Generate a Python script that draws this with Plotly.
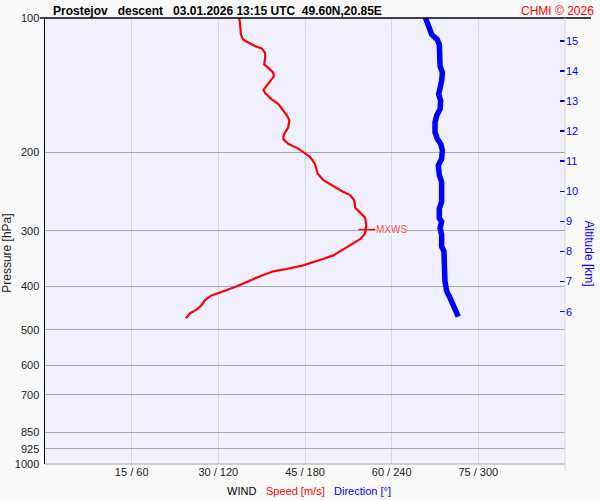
import math
import plotly.graph_objects as go

# ---------------- data ----------------
speed_p = [100, 102.6, 108.9, 111.8, 114.1, 115.6, 117.0, 119.7, 122.8, 127.1, 129.2, 132.6,
           135.3, 140.8, 144.9, 147.4, 152.0, 156.0, 161.4, 165.5, 169.8, 175.8, 181.9, 186.6,
           191.5, 195.5, 199.8, 205.0, 212.2, 223.4, 231.0, 237.0, 244.5, 249.5, 256.0, 266.3,
           273.2, 280.3, 291.0, 303.8, 312.7, 321.5, 329.1, 340.6, 346.5, 353.1, 358.6, 365.4,
           369.8, 379.4, 387.8, 399.3, 409.7, 418.9, 429.1, 440.2, 450.0, 459.4, 471.3]
speed = [33.6, 33.75, 33.9, 34.3, 35.5, 36.3, 37.5, 38.1, 38.1, 37.95, 38.6, 39.5,
         39.6, 38.6, 37.8, 38.1, 39.2, 40.4, 41.2, 41.9, 42.3, 42.1, 41.4, 41.2,
         42.1, 43.6, 44.7, 45.9, 46.7, 47.2, 48.2, 49.6, 51.4, 52.8, 53.5, 53.7,
         54.5, 55.4, 55.6, 55.4, 54.6, 53.1, 51.6, 49.9, 48.2, 46.4, 44.7, 41.8,
         39.5, 37.2, 35.5, 33.2, 30.9, 28.8, 27.7, 27.1, 26.3, 25.1, 24.4]

dir_p = [99.3, 103.5, 108.9, 111.8, 114.7, 128.1, 132.6, 138.4, 144.4, 148.2, 153.3, 160.0,
         165.5, 171.3, 180.4, 186.6, 191.5, 198.1, 206.8, 214.0, 225.2, 233.1, 258.3, 267.3,
         281.3, 286.1, 296.1, 306.3, 325.3, 333.7, 389.2, 409.7, 424.1, 438.6, 454.0, 467.4]
direction = [263.1, 265.4, 267.7, 271.6, 273.0, 273.5, 275.1, 274.6, 272.8, 272.6, 273.9, 273.5,
             271.2, 270.0, 270.0, 271.6, 273.9, 275.1, 274.6, 272.3, 273.0, 274.6, 274.6, 273.0,
             273.0, 274.6, 273.5, 274.6, 274.6, 276.2, 276.9, 278.1, 280.4, 282.7, 284.5, 286.1]

mxws_p = 298
mxws_speed = 55.7

p_ticks = [100, 200, 300, 400, 500, 600, 700, 850, 925, 1000]
alt_ticks = [6, 7, 8, 9, 10, 11, 12, 13, 14, 15]
alt_range = [0.941, 15.759]
wind_tickvals = [15, 30, 45, 60, 75]
wind_ticktext = ["15 / 60", "30 / 120", "45 / 180", "60 / 240", "75 / 300"]

title_text = "Prostejov\u00a0\u00a0\u00a0descent\u00a0\u00a0\u00a003.01.2026 13:15 UTC\u00a0\u00a049.60N,20.85E"

FONT = "Liberation Sans, Arial, sans-serif"

# ---------------- figure ----------------
fig = go.Figure()

fig.add_trace(go.Scatter(x=speed, y=speed_p, mode="lines",
                         line=dict(color="#ff0000", width=2.2),
                         hoverinfo="skip", showlegend=False))

fig.add_trace(go.Scatter(x=direction, y=dir_p, mode="lines", xaxis="x2",
                         line=dict(color="#0000ff", width=5.5),
                         hoverinfo="skip", showlegend=False))

# MXWS marker
fig.add_trace(go.Scatter(x=[mxws_speed], y=[mxws_p], mode="markers",
                         marker=dict(symbol="line-ew-open", size=12, color="#ff0000",
                                     line=dict(color="#ff0000", width=1.3)),
                         hoverinfo="skip", showlegend=False))

# invisible trace to anchor the altitude axis
fig.add_trace(go.Scatter(x=[0], y=[alt_ticks[0]], yaxis="y2", mode="markers",
                         marker=dict(opacity=0), hoverinfo="skip", showlegend=False))

ly = math.log10(mxws_p)

fig.update_layout(
    width=600, height=500,
    margin=dict(l=45, r=35, t=15, b=36),
    paper_bgcolor="#f9f9f9",
    plot_bgcolor="#f0f0ff",
    font=dict(family=FONT, size=11, color="#222222"),
    hovermode=False,
    xaxis=dict(range=[0, 90], tickvals=wind_tickvals, ticktext=wind_ticktext,
               showgrid=True, gridcolor="#d8d8d8", gridwidth=1,
               zeroline=False, showline=False, ticks="",
               tickfont=dict(size=11, color="#222222")),
    xaxis2=dict(range=[0, 360], overlaying="x", visible=False),
    yaxis=dict(type="log", range=[3, 2], tickvals=p_ticks,
               ticktext=[str(v) for v in p_ticks],
               showgrid=True, gridcolor="#a8a8a8", gridwidth=1,
               zeroline=False, showline=True, linecolor="#000000", linewidth=1.5,
               ticks="", ticklabelstandoff=2,
               tickfont=dict(size=11, color="#222222")),
    yaxis2=dict(range=alt_range, overlaying="y", side="right",
                tickvals=alt_ticks, ticktext=[str(v) for v in alt_ticks],
                showgrid=False, zeroline=False, showline=False,
                ticks="inside", ticklen=5, tickwidth=1.5, tickcolor="#0000ff",
                tickfont=dict(size=11, color="#0000ff")),
    shapes=[
        dict(type="line", xref="paper", yref="paper", x0=-0.01, x1=1.05, y0=1, y1=1,
             line=dict(color="#000000", width=1.5)),
        dict(type="line", xref="paper", yref="paper", x0=1, x1=1, y0=-0.014, y1=1,
             line=dict(color="#d8d8d8", width=1)),
        dict(type="line", xref="paper", yref="paper", x0=0, x1=1, y0=0, y1=0,
             line=dict(color="#a8a8a8", width=1)),
        dict(type="line", xref="paper", yref="y", x0=-0.004, x1=0.021, y0=ly, y1=ly,
             line=dict(color="#ff0000", width=1.3)),
        dict(type="line", xref="paper", yref="y", x0=0.979, x1=0.987, y0=ly, y1=ly,
             line=dict(color="#ff0000", width=1.3)),
    ],
    annotations=[
        dict(text="<b>" + title_text + "</b>", xref="paper", yref="paper",
             x=0.0106, y=1.0167, xanchor="left", yanchor="middle", showarrow=False,
             font=dict(size=12, color="#000000")),
        dict(text="CHMI © 2026", xref="paper", yref="paper",
             x=1.0596, y=1.0167, xanchor="right", yanchor="middle", showarrow=False,
             font=dict(size=12, color="#ff0000")),
        dict(text="Pressure [hPa]", xref="paper", yref="paper", textangle=-90,
             x=-0.0725, y=0.472, xanchor="center", yanchor="middle", showarrow=False,
             font=dict(size=12, color="#222222")),
        dict(text="Altitude [km]", xref="paper", yref="paper", textangle=90,
             x=1.046, y=0.472, xanchor="center", yanchor="middle", showarrow=False,
             font=dict(size=12, color="#0000ff")),
        dict(text="WIND", xref="paper", yref="paper",
             x=(225 - 45) / 520, y=-0.06, xanchor="left", yanchor="middle", showarrow=False,
             font=dict(size=11, color="#000000")),
        dict(text="Speed [m/s]", xref="paper", yref="paper",
             x=(264 - 45) / 520, y=-0.06, xanchor="left", yanchor="middle", showarrow=False,
             font=dict(size=11, color="#ff0000")),
        dict(text="Direction [°]", xref="paper", yref="paper",
             x=(332 - 45) / 520, y=-0.06, xanchor="left", yanchor="middle", showarrow=False,
             font=dict(size=11, color="#0000ff")),
        dict(text="MXWS", xref="x", yref="y", x=mxws_speed, y=ly,
             xanchor="left", yanchor="middle", xshift=8, showarrow=False,
             bgcolor="rgba(255,255,255,0.6)", borderpad=0,
             font=dict(size=10, color="#ff4444")),
    ],
)

fig.write_html("out.html", config={"displayModeBar": False, "staticPlot": True},
               post_script="document.body.style.margin='0';document.body.style.overflow='hidden';")
